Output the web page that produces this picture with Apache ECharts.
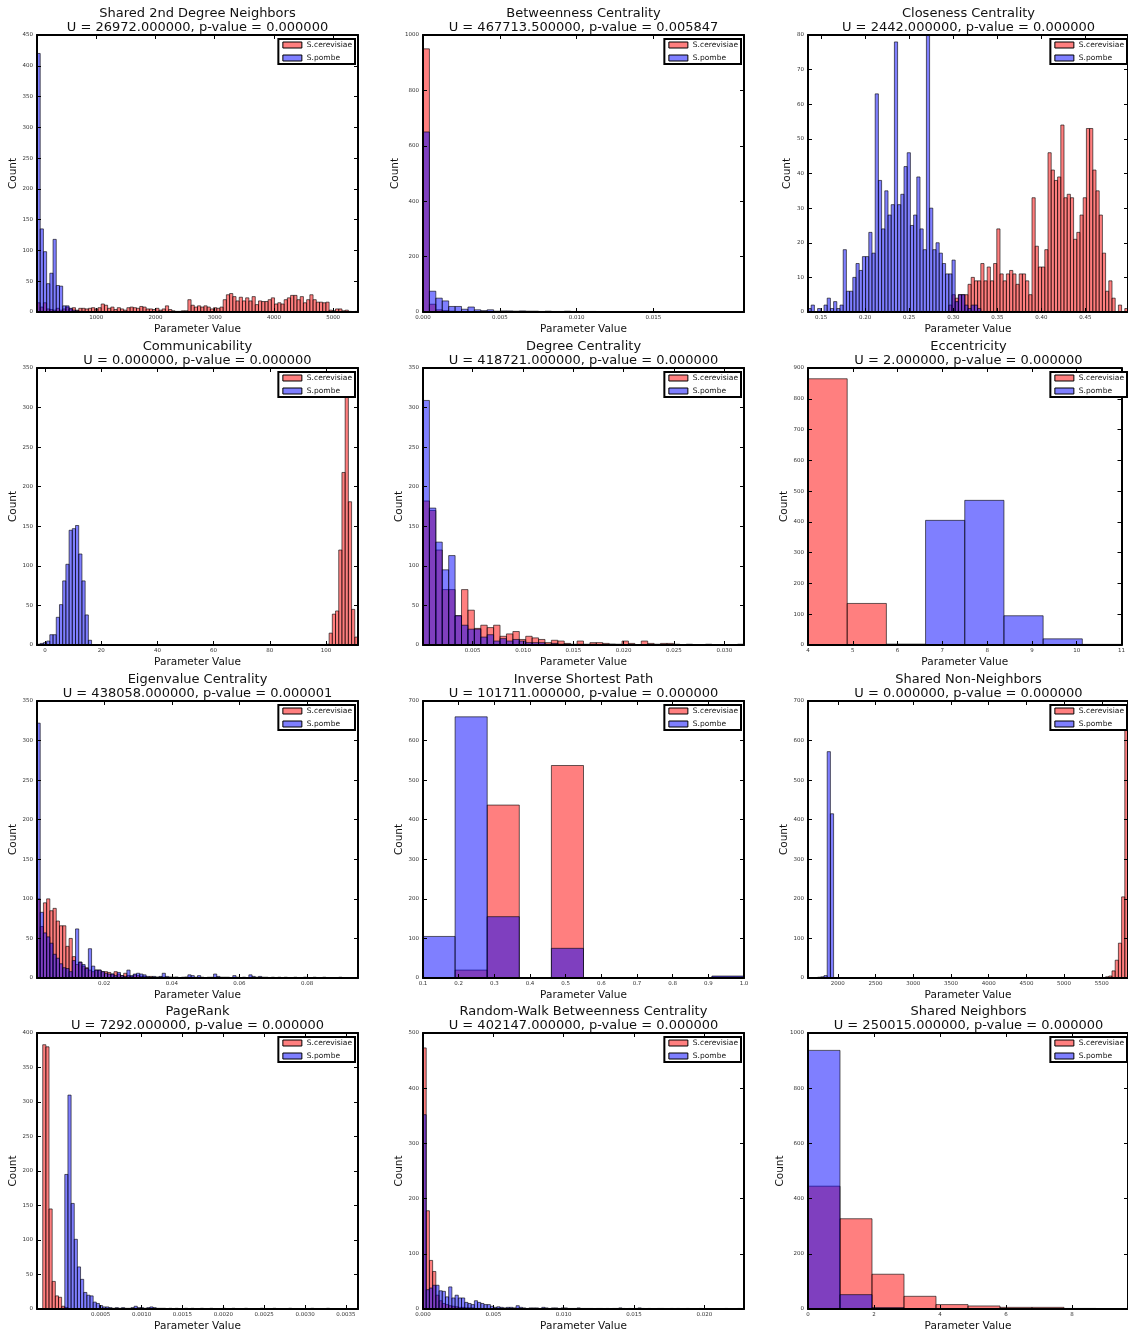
<!DOCTYPE html>
<html>
<head>
<meta charset="utf-8">
<script src="https://cdn.jsdelivr.net/npm/echarts@6/dist/echarts.min.js"></script>
<style>
  html, body { margin: 0; padding: 0; background: #fff; }
  #chart { width: 1128px; height: 1333px; }
</style>
</head>
<body>
<div id="chart"></div>
<script>
// ---- Histogram counts per network parameter (S.cerevisiae = red, S.pombe = blue) ----

// Shared 2nd Degree Neighbors: 100 bins of 54.2 starting at 0
const s2dRed = [15, 8, 15, 5, 4, 3, 6, 3, 5, 8,
  5, 7, 3, 6, 6, 5, 6, 7, 5, 7,
  13, 11, 6, 8, 4, 7, 5, 3, 7, 8,
  7, 6, 9, 8, 5, 5, 4, 6, 3, 5,
  10, 4, 2, 1, 1, 2, 2, 20, 11, 8,
  10, 8, 10, 8, 5, 7, 6, 8, 20, 28,
  30, 25, 18, 24, 18, 23, 18, 25, 12, 18,
  17, 17, 20, 23, 13, 15, 13, 20, 23, 27,
  27, 20, 25, 15, 20, 28, 20, 16, 16, 15,
  16, 3, 2, 5, 5, 2, 3, 1, 0, 1];
const s2dBlue = [420, 135, 98, 46, 63, 118, 43, 42, 10, 10, 6, 3, 2, 1, 1];
const s2dTicks = [1000, 2000, 3000, 4000, 5000];

// Betweenness Centrality
const btwRed = [950, 28, 8, 5, 3, 2, 2, 1, 1, 1, 0, 1];
const btwBlue = [650, 75, 50, 40, 20, 20, 10, 18, 8, 5, 8, 3, 4, 4, 3, 4, 3, 3, 2, 3,
  2, 2, 3, 2, 2, 1, 2, 1, 1, 0, 1, 0, 0, 1, 0, 0, 1];
const btwTicks = [0, 0.005, 0.010, 0.015];

// Closeness Centrality (red counts start at bin 44)
const cloRed = [2, 5, 4, 5, 5, 5, 8, 10, 9, 9,
  14, 9, 13, 9, 14, 24, 11, 9, 11, 12,
  11, 8, 11, 11, 9, 5, 33, 19, 13, 13,
  18, 46, 41, 38, 39, 54, 33, 34, 33, 21,
  23, 28, 33, 53, 53, 41, 35, 28, 17, 6,
  9, 4, 0, 2, 0, 1];
const cloBlue = [1, 2, 0, 1, 0, 2, 4, 1, 3, 1,
  2, 18, 6, 6, 10, 14, 12, 16, 16, 23,
  17, 63, 38, 24, 35, 28, 31, 78, 31, 34,
  42, 46, 25, 28, 39, 24, 18, 80, 30, 18,
  20, 17, 14, 11, 11, 15, 3, 5, 5, 2,
  1, 2, 2, 1];
const cloTicks = [0.15, 0.20, 0.25, 0.30, 0.35, 0.40, 0.45];

// Communicability (red counts start at bin 90)
const comRed = [1, 15, 39, 43, 120, 218, 315, 181, 45, 10];
const comBlue = [1, 2, 3, 5, 13, 13, 35, 51, 81, 102, 145, 147, 151, 115, 81, 38, 6];
const comTicks = [0, 20, 40, 60, 80, 100];

// Degree Centrality
const degRed = [182, 170, 120, 70, 70, 37, 70, 44, 21, 25,
  22, 25, 11, 14, 17, 7, 11, 9, 7, 3,
  6, 5, 2, 1, 5, 1, 3, 3, 2, 1,
  1, 5, 2, 0, 5, 2, 1, 2, 2, 1,
  0, 1, 0, 0, 1, 0, 0, 0, 0, 1];
const degBlue = [309, 173, 130, 95, 113, 37, 25, 20, 20, 10,
  13, 5, 8, 5, 7, 5, 3, 3, 3, 1,
  2, 1, 1, 0, 1, 0, 1, 0, 0, 1];
const degTicks = [0.005, 0.010, 0.015, 0.020, 0.025, 0.030];

// Eccentricity (blue counts start at bin 3)
const eccRed = [865, 135, 3];
const eccBlue = [405, 470, 95, 20, 2];
const eccTicks = [4, 5, 6, 7, 8, 9, 10, 11];

// Eigenvalue Centrality
const eigRed = [100, 65, 95, 100, 85, 88, 72, 66, 66, 40,
  50, 27, 17, 20, 15, 13, 10, 8, 10, 10,
  8, 8, 7, 5, 8, 5, 3, 6, 3, 2,
  4, 3, 2, 2, 1, 2, 1, 1, 1, 1,
  0, 1, 0, 1, 0, 0, 1];
const eigBlue = [322, 83, 57, 52, 44, 30, 25, 18, 13, 12,
  8, 22, 62, 20, 17, 12, 37, 15, 10, 10,
  8, 6, 5, 5, 3, 7, 3, 2, 10, 3,
  5, 6, 5, 4, 2, 1, 2, 1, 2, 6,
  2, 1, 1, 1, 0, 1, 1, 4, 3, 1,
  3, 1, 0, 1, 1, 5, 2, 1, 1, 1,
  0, 3, 1, 0, 1, 0, 4, 2, 1, 2,
  1, 1, 0, 1, 0, 1, 0, 1, 0, 0,
  1, 0, 0, 1, 0, 0, 1, 0, 0, 1,
  0, 0, 0, 0, 1];
const eigTicks = [0.02, 0.04, 0.06, 0.08];

// Inverse Shortest Path
const ispRed = [0, 20, 437, 0, 537, 0, 0, 0, 0, 3];
const ispBlue = [105, 660, 155, 0, 75, 0, 0, 0, 0, 5];
const ispTicks = [0.1, 0.2, 0.3, 0.4, 0.5, 0.6, 0.7, 0.8, 0.9, 1.0];

// Shared Non-Neighbors (red starts at bin 84, blue at bin 2)
const snnRed = [1, 0, 0, 0, 0, 0, 0, 0, 1, 3, 5, 18, 45, 88, 205, 630];
const snnBlue = [1, 2, 3, 6, 572, 415];
const snnTicks = [2000, 2500, 3000, 3500, 4000, 4500, 5000, 5500];

// PageRank (blue starts at bin 6)
const prRed = [383, 380, 145, 40, 19, 17, 4, 2];
const prBlue = [1, 195, 310, 153, 101, 61, 43, 24, 20, 19,
  10, 8, 5, 3, 3, 2, 1, 2, 1, 2,
  1, 1, 2, 4, 2, 2, 1, 2, 3, 2,
  1, 1, 1, 0, 1, 0, 1, 0, 0, 1,
  0, 1, 0, 0, 1, 0, 0, 1, 0, 0,
  0, 1, 0, 0, 1, 0, 0, 0, 1, 0,
  0, 0, 0, 1, 0, 0, 0, 1, 0, 0,
  0, 0, 1, 0, 0, 0, 0, 0, 0, 1,
  0, 0, 0, 0, 1];
const prTicks = [0.0005, 0.0010, 0.0015, 0.0020, 0.0025, 0.0030, 0.0035];

// Random-Walk Betweenness Centrality
const rwRed = [473, 178, 88, 68, 25, 15, 10, 8, 6, 5,
  4, 3, 3, 2, 2, 2, 1, 1, 1, 1,
  1, 1, 0, 1, 1, 0, 1, 0, 0, 1];
const rwBlue = [352, 35, 38, 43, 43, 33, 32, 22, 40, 20,
  25, 20, 20, 12, 10, 8, 15, 12, 10, 8,
  8, 5, 3, 4, 3, 2, 3, 3, 2, 6,
  3, 2, 1, 2, 2, 2, 1, 3, 2, 1,
  2, 2, 1, 2, 2, 1, 1, 1, 2, 1,
  1, 1, 1, 0, 1, 1, 0, 1, 0, 1,
  1, 2, 1, 0, 1, 0, 1, 2, 1, 0,
  1, 0, 0, 1, 1, 0, 0, 1, 0, 1,
  0, 0, 1, 0, 0, 0, 1, 0, 0, 0,
  0, 0, 0, 0, 1, 0, 0, 0, 1];
const rwTicks = [0, 0.005, 0.010, 0.015, 0.020];

// Shared Neighbors
const snRed = [445, 327, 126, 46, 16, 11, 6, 6, 2, 1];
const snBlue = [937, 52, 5];
const snTicks = [0, 2, 4, 6, 8];

// Mann-Whitney statistics shown under each title
const panelNames = ['Shared 2nd Degree Neighbors', 'Betweenness Centrality', 'Closeness Centrality',
  'Communicability', 'Degree Centrality', 'Eccentricity',
  'Eigenvalue Centrality', 'Inverse Shortest Path', 'Shared Non-Neighbors',
  'PageRank', 'Random-Walk Betweenness Centrality', 'Shared Neighbors'];
const uValues = [26972, 467713.5, 2442, 0, 418721, 2, 438058, 101711, 0, 7292, 402147, 250015];
const pValues = [0, 0.005847, 0, 0, 0, 0, 0.000001, 0, 0, 0, 0, 0];

// ---- Panel definitions: bins, axis extents, tick formats ----
const panels = [
  { red: s2dRed, redOff: 0, blue: s2dBlue, blueOff: 0, start: 0, width: 54.2, xMin: 0, xMax: 5420, ticks: s2dTicks, dec: 0, yMax: 450, yStep: 50 },
  { red: btwRed, redOff: 0, blue: btwBlue, blueOff: 0, start: 0, width: 0.000418, xMin: 0, xMax: 0.0209, ticks: btwTicks, dec: 3, yMax: 1000, yStep: 200 },
  { red: cloRed, redOff: 44, blue: cloBlue, blueOff: 0, start: 0.135, width: 0.003635, xMin: 0.135, xMax: 0.4985, ticks: cloTicks, dec: 2, yMax: 80, yStep: 10 },
  { red: comRed, redOff: 90, blue: comBlue, blueOff: 0, start: -2.85, width: 1.1425, xMin: -2.85, xMax: 111.4, ticks: comTicks, dec: 0, yMax: 350, yStep: 50 },
  { red: degRed, redOff: 0, blue: degBlue, blueOff: 0, start: 0.00006, width: 0.000638, xMin: 0.00006, xMax: 0.03196, ticks: degTicks, dec: 3, yMax: 350, yStep: 50 },
  { red: eccRed, redOff: 0, blue: eccBlue, blueOff: 3, start: 4, width: 0.875, xMin: 4, xMax: 11, ticks: eccTicks, dec: 0, yMax: 900, yStep: 100 },
  { red: eigRed, redOff: 0, blue: eigBlue, blueOff: 0, start: 0.0002, width: 0.000948, xMin: 0.0002, xMax: 0.095, ticks: eigTicks, dec: 2, yMax: 350, yStep: 50 },
  { red: ispRed, redOff: 0, blue: ispBlue, blueOff: 0, start: 0.1, width: 0.09, xMin: 0.1, xMax: 1.0, ticks: ispTicks, dec: 1, yMax: 700, yStep: 100 },
  { red: snnRed, redOff: 84, blue: snnBlue, blueOff: 2, start: 1605, width: 42.42, xMin: 1605, xMax: 5847, ticks: snnTicks, dec: 0, yMax: 700, yStep: 100 },
  { red: prRed, redOff: 0, blue: prBlue, blueOff: 6, start: -0.000209, width: 0.00003856, xMin: -0.000279, xMax: 0.003647, ticks: prTicks, dec: 4, yMax: 400, yStep: 50 },
  { red: rwRed, redOff: 0, blue: rwBlue, blueOff: 0, start: 0, width: 0.0002282, xMin: 0, xMax: 0.02282, ticks: rwTicks, dec: 3, yMax: 500, yStep: 100 },
  { red: snRed, redOff: 0, blue: snBlue, blueOff: 0, start: 0, width: 0.97, xMin: 0, xMax: 9.7, ticks: snTicks, dec: 0, yMax: 1000, yStep: 200 }
];

// ---- Layout ----
const PAGE_W = 1128;
const colLeft = [37, 423, 808];
const colWidth = [321, 321, 323];
const rowTop = [35, 368, 701, 1033];
const plotH = 277;
const FONT = 'DejaVu Sans';
const RED = 'rgba(255,0,0,0.5)';
const BLUE = 'rgba(0,0,255,0.5)';
const EDGE = 'rgba(0,0,0,0.6)';

function histData(counts, offset, start, width) {
  return counts.map(function (c, j) {
    const i = offset + j;
    return [start + i * width, start + (i + 1) * width, c];
  });
}

function renderBar(fill) {
  return function (params, api) {
    const c = api.value(2);
    if (!c) return null;
    const lo = api.coord([api.value(0), 0]);
    const hi = api.coord([api.value(1), c]);
    return {
      type: 'rect',
      shape: { x: lo[0], y: hi[1], width: hi[0] - lo[0], height: lo[1] - hi[1] },
      style: { fill: fill, stroke: EDGE, lineWidth: 1 }
    };
  };
}

const grids = [], xAxes = [], yAxes = [], series = [], titles = [], legends = [];
const frameLine = { onZero: false, lineStyle: { color: '#000', width: 2 } };
const tickStyle = { color: '#000', width: 1 };
const labelStyle = { fontSize: 5.5, color: '#333', fontFamily: FONT };

panels.forEach(function (p, k) {
  const col = k % 3, row = Math.floor(k / 3);
  const left = colLeft[col], top = rowTop[row], plotW = colWidth[col];
  grids.push({ left: left, top: top, width: plotW, height: plotH, containLabel: false, show: false });

  const fmtX = function (v) { return v.toFixed(p.dec); };
  xAxes.push({
    type: 'value', gridIndex: k, position: 'bottom', min: p.xMin, max: p.xMax, z: 5,
    axisLine: frameLine,
    axisTick: { show: true, inside: true, length: 4, lineStyle: tickStyle, customValues: p.ticks },
    axisLabel: { show: true, margin: 3, formatter: fmtX, customValues: p.ticks, ...labelStyle },
    splitLine: { show: false },
    name: 'Parameter Value', nameLocation: 'middle', nameGap: 12,
    nameTextStyle: { fontSize: 10.5, color: '#111', fontFamily: FONT }
  });
  xAxes.push({
    type: 'value', gridIndex: k, position: 'top', min: p.xMin, max: p.xMax, z: 5,
    axisLine: frameLine,
    axisTick: { show: true, inside: true, length: 4, lineStyle: tickStyle, customValues: p.ticks },
    axisLabel: { show: false, customValues: p.ticks },
    splitLine: { show: false }
  });

  const digits = String(p.yMax).length;
  yAxes.push({
    type: 'value', gridIndex: k, position: 'left', min: 0, max: p.yMax, interval: p.yStep, z: 5,
    axisLine: frameLine,
    axisTick: { show: true, inside: true, length: 4, lineStyle: tickStyle },
    axisLabel: { show: true, margin: 4, showMinLabel: true, showMaxLabel: true,
      formatter: function (v) { return String(v); }, ...labelStyle },
    splitLine: { show: false },
    name: 'Count', nameLocation: 'middle', nameRotate: 90, nameGap: 4 + 3.2 * digits,
    nameTextStyle: { fontSize: 10.5, color: '#111', fontFamily: FONT }
  });
  yAxes.push({
    type: 'value', gridIndex: k, position: 'right', min: 0, max: p.yMax, interval: p.yStep, z: 5,
    axisLine: frameLine,
    axisTick: { show: true, inside: true, length: 4, lineStyle: tickStyle },
    axisLabel: { show: false },
    splitLine: { show: false }
  });

  series.push({
    type: 'custom', name: 'S.cerevisiae', xAxisIndex: 2 * k, yAxisIndex: 2 * k, clip: true, z: 2,
    itemStyle: { color: RED, borderColor: EDGE, borderWidth: 1 },
    encode: { x: [0, 1], y: 2 },
    data: histData(p.red, p.redOff, p.start, p.width),
    renderItem: renderBar(RED)
  });
  series.push({
    type: 'custom', name: 'S.pombe', xAxisIndex: 2 * k, yAxisIndex: 2 * k, clip: true, z: 3,
    itemStyle: { color: BLUE, borderColor: EDGE, borderWidth: 1 },
    encode: { x: [0, 1], y: 2 },
    data: histData(p.blue, p.blueOff, p.start, p.width),
    renderItem: renderBar(BLUE)
  });

  titles.push({
    text: panelNames[k] + '\nU = ' + uValues[k].toFixed(6) + ', p-value = ' + pValues[k].toFixed(6),
    left: left + 160.5, top: top - 29, textAlign: 'center', padding: 0,
    textStyle: { fontSize: 13, fontWeight: 'normal', color: '#111', fontFamily: FONT, lineHeight: 14.5 }
  });

  legends.push({
    data: ['S.cerevisiae', 'S.pombe'], orient: 'vertical', selectedMode: false,
    right: PAGE_W - Math.min(left + plotW - 3, PAGE_W - 1), top: top + 4, z: 6,
    icon: 'rect', itemWidth: 19, itemHeight: 6, itemGap: 5,
    padding: [2, 3, 2, 4], backgroundColor: '#fff', borderColor: '#000', borderWidth: 2, borderRadius: 0,
    itemStyle: { borderColor: '#000', borderWidth: 1 },
    textStyle: { fontSize: 7.5, color: '#111', fontFamily: FONT }
  });
});

const chart = echarts.init(document.getElementById('chart'), null, { renderer: 'canvas' });
chart.setOption({
  backgroundColor: '#fff',
  animation: false,
  title: titles,
  legend: legends,
  grid: grids,
  xAxis: xAxes,
  yAxis: yAxes,
  series: series
});
</script>
</body>
</html>
